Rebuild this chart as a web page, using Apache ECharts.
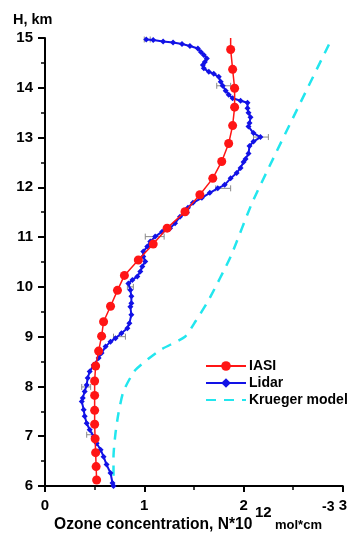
<!DOCTYPE html>
<html>
<head>
<meta charset="utf-8">
<script src="https://cdn.jsdelivr.net/npm/echarts@6/dist/echarts.min.js"></script>
<style>
  html, body { margin: 0; padding: 0; background: #fff; }
  #chart { width: 350px; height: 533px; }
</style>
</head>
<body>
<div id="chart"></div>
<script>
// IASI profile (ozone, height)
const iasiX = [1.87, 1.87, 1.89, 1.91, 1.91, 1.89, 1.85, 1.78, 1.69, 1.56, 1.41, 1.23, 1.09, 0.94, 0.80, 0.73, 0.66, 0.59, 0.57, 0.54, 0.51, 0.50, 0.50, 0.50, 0.50, 0.505, 0.51, 0.515, 0.52];
const iasiH = [15.0, 14.77, 14.37, 13.99, 13.61, 13.24, 12.88, 12.52, 12.18, 11.85, 11.51, 11.18, 10.86, 10.54, 10.23, 9.93, 9.61, 9.30, 9.01, 8.71, 8.41, 8.11, 7.82, 7.52, 7.24, 6.95, 6.67, 6.39, 6.12];

// Lidar profile
const lidarX = [1.02, 1.09, 1.19, 1.29, 1.38, 1.46, 1.54, 1.57, 1.60, 1.63, 1.61, 1.59, 1.60, 1.65, 1.70, 1.75, 1.77, 1.79, 1.82, 1.85, 1.89, 1.97, 2.04, 2.04, 2.05, 2.07, 2.06, 2.05, 2.10, 2.17, 2.10, 2.06, 2.05, 2.02, 2.00, 1.97, 1.93, 1.87, 1.81, 1.74, 1.66, 1.58, 1.49, 1.44, 1.43, 1.36, 1.31, 1.26, 1.18, 1.11, 1.06, 1.03, 0.99, 0.99, 1.01, 0.98, 0.96, 0.93, 0.88, 0.84, 0.86, 0.87, 0.87, 0.86, 0.87, 0.85, 0.83, 0.77, 0.71, 0.66, 0.61, 0.57, 0.54, 0.49, 0.45, 0.43, 0.42, 0.40, 0.38, 0.37, 0.39, 0.40, 0.42, 0.45, 0.49, 0.52, 0.56, 0.59, 0.62, 0.66, 0.68, 0.69];
const lidarH = [14.97, 14.96, 14.93, 14.91, 14.88, 14.84, 14.79, 14.72, 14.66, 14.59, 14.52, 14.46, 14.39, 14.32, 14.28, 14.22, 14.12, 14.04, 13.94, 13.86, 13.79, 13.74, 13.70, 13.59, 13.50, 13.41, 13.29, 13.22, 13.09, 13.01, 12.92, 12.83, 12.68, 12.57, 12.51, 12.39, 12.29, 12.18, 12.05, 11.98, 11.89, 11.79, 11.69, 11.59, 11.49, 11.41, 11.28, 11.18, 11.11, 11.01, 10.91, 10.81, 10.71, 10.61, 10.51, 10.41, 10.31, 10.21, 10.14, 10.07, 9.94, 9.81, 9.67, 9.60, 9.44, 9.27, 9.17, 9.07, 8.97, 8.90, 8.80, 8.67, 8.57, 8.43, 8.30, 8.17, 8.03, 7.90, 7.77, 7.70, 7.53, 7.40, 7.26, 7.13, 6.99, 6.86, 6.73, 6.59, 6.43, 6.26, 6.06, 6.00];

// Krueger model
const kruegerX = [2.86, 2.10, 1.87, 1.65, 1.52, 1.41, 1.16, 0.91, 0.79, 0.74, 0.71, 0.69, 0.69];
const kruegerH = [14.87, 11.75, 10.61, 9.74, 9.32, 9.00, 8.73, 8.33, 7.90, 7.46, 7.06, 6.59, 6.00];

// Lidar error bars
const errLow  = [1.00, 1.73, 2.10, 1.72, 1.01, 0.83, 0.69, 0.37, 0.42];
const errHigh = [1.06, 1.87, 2.25, 1.87, 1.20, 0.89, 0.81, 0.46, 0.48];
const errH    = [14.97, 14.04, 13.01, 11.98, 11.01, 10.00, 9.00, 7.99, 7.03];

const xTicks = [0, 1, 2, 3];
const font = 'Liberation Sans, Arial, sans-serif';

const chart = echarts.init(document.getElementById('chart'));

const iasiData = iasiX.map((x, i) =>
  i === 0 ? { value: [x, iasiH[i]], symbol: 'none' } : [x, iasiH[i]]
);

function txt(text, x, y, size) {
  return {
    type: 'text', x: x, y: y,
    style: { text: text, fill: '#000', font: 'bold ' + size + 'px ' + font, verticalAlign: 'middle' }
  };
}

chart.setOption({
  animation: false,
  grid: { left: 45, right: 7, top: 38, bottom: 47 },
  xAxis: {
    type: 'value',
    min: 0,
    max: 3,
    interval: 1,
    axisLine: { show: true, lineStyle: { color: '#000', width: 2 } },
    axisTick: { show: true, length: 6, lineStyle: { color: '#000', width: 2 } },
    minorTick: { show: true, splitNumber: 2, length: 4, lineStyle: { color: '#000', width: 1.5 } },
    splitLine: { show: false },
    axisLabel: {
      color: '#000', fontWeight: 'bold', fontSize: 15, fontFamily: font, margin: 12,
      formatter: v => (xTicks.includes(v) ? String(v) : '')
    }
  },
  yAxis: {
    type: 'value',
    min: 6,
    max: 15,
    interval: 1,
    axisLine: { show: true, lineStyle: { color: '#000', width: 2 } },
    axisTick: { show: true, length: 7, lineStyle: { color: '#000', width: 2 } },
    minorTick: { show: true, splitNumber: 2, length: 4, lineStyle: { color: '#000', width: 1.5 } },
    splitLine: { show: false },
    axisLabel: { color: '#000', fontWeight: 'bold', fontSize: 15, fontFamily: font, margin: 12 }
  },
  legend: {
    orient: 'vertical',
    left: 200,
    top: 354,
    itemWidth: 40,
    itemHeight: 12,
    itemGap: 3,
    data: [
      'IASI',
      'Lidar',
      { name: 'Krueger model', itemStyle: { opacity: 0 } }
    ],
    textStyle: { color: '#000', fontWeight: 'bold', fontSize: 14, fontFamily: font, padding: [0, 0, 0, -2] }
  },
  graphic: [
    { type: 'text', left: 13, top: 12, style: { text: 'H, km', fill: '#000', font: 'bold 14.5px ' + font } },
    txt('Ozone concentration, N*10', 54, 525, 15.6),
    txt('12', 255, 513, 15),
    txt('mol*cm', 275, 525, 13),
    txt('-3', 322, 507, 14)
  ],
  series: [
    {
      type: 'custom',
      name: 'err',
      z: 1,
      data: errLow.map((lo, i) => [lo, errHigh[i], errH[i]]),
      encode: { x: [0, 1], y: 2 },
      renderItem: (params, api) => {
        const a = api.coord([api.value(0), api.value(2)]);
        const b = api.coord([api.value(1), api.value(2)]);
        const st = { stroke: '#8a8a8a', lineWidth: 1 };
        return {
          type: 'group',
          children: [
            { type: 'line', shape: { x1: a[0], y1: a[1], x2: b[0], y2: b[1] }, style: st },
            { type: 'line', shape: { x1: a[0], y1: a[1] - 3, x2: a[0], y2: a[1] + 3 }, style: st },
            { type: 'line', shape: { x1: b[0], y1: b[1] - 3, x2: b[0], y2: b[1] + 3 }, style: st }
          ]
        };
      }
    },
    {
      name: 'Krueger model',
      type: 'line',
      z: 2,
      data: kruegerX.map((x, i) => [x, kruegerH[i]]),
      symbol: 'none',
      smooth: 0.2,
      lineStyle: { color: '#22e6ee', width: 2.5, type: [10, 8] },
      itemStyle: { color: '#22e6ee' }
    },
    {
      name: 'Lidar',
      type: 'line',
      z: 3,
      data: lidarX.map((x, i) => [x, lidarH[i]]),
      symbol: 'diamond',
      symbolSize: 6,
      lineStyle: { color: '#1212e6', width: 2 },
      itemStyle: { color: '#1212e6' }
    },
    {
      name: 'IASI',
      type: 'line',
      z: 4,
      data: iasiData,
      symbol: 'circle',
      symbolSize: 9,
      lineStyle: { color: '#ff1515', width: 1.5 },
      itemStyle: { color: '#ff1515' }
    }
  ]
});
</script>
</body>
</html>
